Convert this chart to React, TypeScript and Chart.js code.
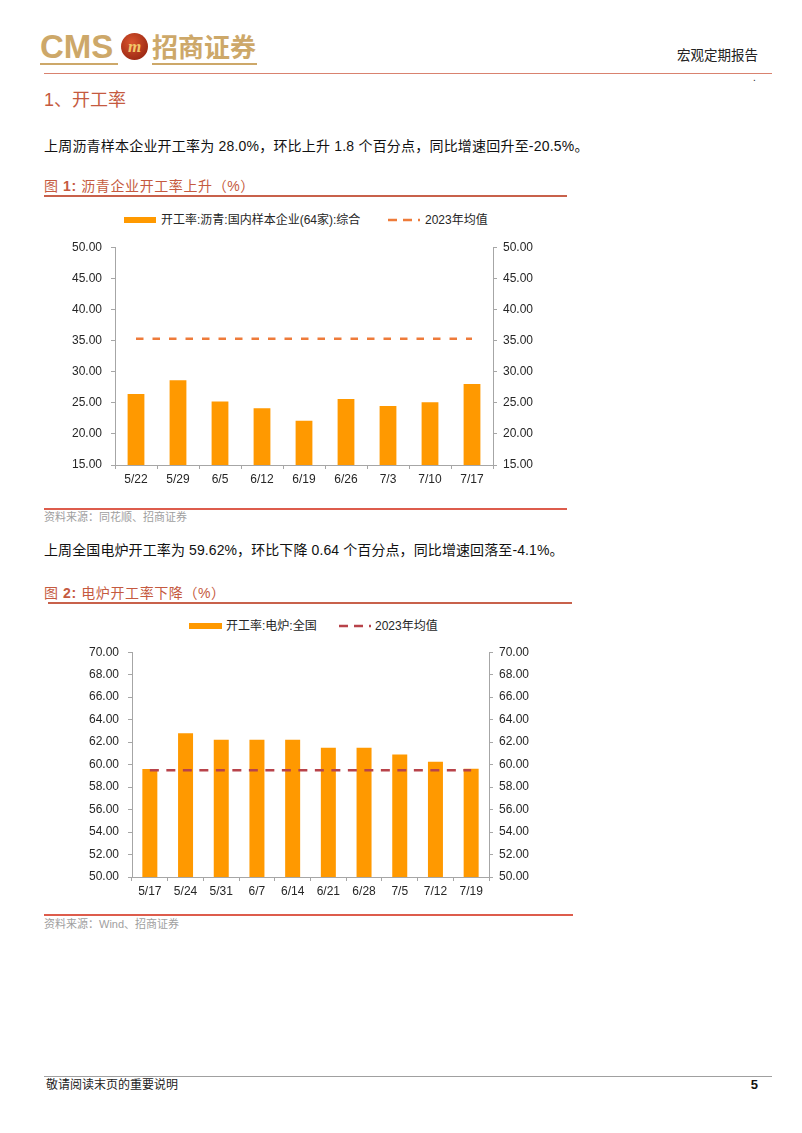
import React, { useEffect, useRef } from "react";
import { Chart, registerables } from "chart.js";

Chart.register(...registerables);

// ---- Chart 1 data ----
const labels1 = ["5/22", "5/29", "6/5", "6/12", "6/19", "6/26", "7/3", "7/10", "7/17"];
const asphaltRate = [26.4, 28.6, 25.2, 24.1, 22.1, 25.6, 24.5, 25.1, 28.0];
const asphaltAvg2023 = [35.3, 35.3, 35.3, 35.3, 35.3, 35.3, 35.3, 35.3, 35.3];
const series1Name = "开工率:沥青:国内样本企业(64家):综合";
const avgName = "2023年均值";

// ---- Chart 2 data ----
const labels2 = ["5/17", "5/24", "5/31", "6/7", "6/14", "6/21", "6/28", "7/5", "7/12", "7/19"];
const furnaceRate = [59.6, 62.8, 62.2, 62.2, 62.2, 61.5, 61.5, 60.9, 60.26, 59.62];
const furnaceAvg2023 = [59.5, 59.5, 59.5, 59.5, 59.5, 59.5, 59.5, 59.5, 59.5, 59.5];
const series2Name = "开工率:电炉:全国";

const BAR = "#FF9900";
const AXIS = "#A6A6A6";
const FONT = "'Liberation Sans', Arial, 'Noto Sans CJK SC', sans-serif";
const CJK = "'Liberation Sans', 'Noto Sans CJK SC', sans-serif";

type Cfg = {
  labels: string[];
  bars: number[];
  avg: number[];
  barName: string;
  min: number;
  max: number;
  step: number;
  dashColor: string;
  dash: number[];
  barPct: number;
  leftW: number;
  rightW: number;
  xH: number;
};

function BarChart({ cfg, width, height }: { cfg: Cfg; width: number; height: number }) {
  const ref = useRef<HTMLCanvasElement | null>(null);
  useEffect(() => {
    if (!ref.current) return;
    const yScale = (pos: "left" | "right", w: number, pad: number) => ({
      type: "linear" as const,
      position: pos,
      min: cfg.min,
      max: cfg.max,
      ticks: {
        stepSize: cfg.step,
        color: "#262626",
        padding: pad,
        font: { family: FONT, size: 12 },
        callback: (v: any) => Number(v).toFixed(2),
      },
      grid: { drawOnChartArea: false, drawTicks: true, tickLength: 4, color: AXIS },
      border: { display: true, color: AXIS, width: 1 },
      afterFit: (s: any) => {
        s.width = w;
      },
    });
    const chart = new Chart(ref.current, {
      data: {
        labels: cfg.labels,
        datasets: [
          {
            type: "line" as const,
            label: avgName,
            data: cfg.avg,
            borderColor: cfg.dashColor,
            borderWidth: 2.5,
            borderDash: cfg.dash,
            pointRadius: 0,
            fill: false,
            yAxisID: "y",
            order: 1,
          },
          {
            type: "bar" as const,
            label: cfg.barName,
            data: cfg.bars,
            backgroundColor: BAR,
            barPercentage: cfg.barPct,
            categoryPercentage: 1,
            yAxisID: "y",
            order: 2,
          },
        ],
      },
      options: {
        responsive: false,
        maintainAspectRatio: false,
        animation: false,
        layout: { padding: { top: 10, left: 0, right: 0, bottom: 0 } },
        plugins: { legend: { display: false }, tooltip: { enabled: false } },
        scales: {
          x: {
            type: "category",
            offset: true,
            grid: { display: true, drawOnChartArea: false, drawTicks: true, tickLength: 4, color: AXIS, offset: true },
            border: { display: true, color: AXIS, width: 1 },
            ticks: { color: "#262626", padding: 3, maxRotation: 0, autoSkip: false, font: { family: FONT, size: 12 } },
            afterFit: (s: any) => {
              s.height = cfg.xH;
            },
          },
          y: yScale("left", cfg.leftW, 9),
          y1: yScale("right", cfg.rightW, 6),
        },
      } as any,
    } as any);
    return () => chart.destroy();
  }, [cfg]);
  return <canvas ref={ref} width={width} height={height} style={{ width, height, display: "block" }} />;
}

const cfg1: Cfg = {
  labels: labels1,
  bars: asphaltRate,
  avg: asphaltAvg2023,
  barName: series1Name,
  min: 15,
  max: 50,
  step: 5,
  dashColor: "#EE7B3A",
  dash: [7.5, 9],
  barPct: 0.4,
  leftW: 75,
  rightW: 77,
  xH: 32,
};

const cfg2: Cfg = {
  labels: labels2,
  bars: furnaceRate,
  avg: furnaceAvg2023,
  barName: series2Name,
  min: 50,
  max: 70,
  step: 2,
  dashColor: "#B8434A",
  dash: [9, 7.5],
  barPct: 0.42,
  leftW: 92,
  rightW: 81,
  xH: 32,
};

function T({ x, y, size, color = "#111", children, right, weight, family = CJK, ls }: any) {
  const style: React.CSSProperties = {
    position: "absolute",
    top: y - size * 0.6,
    fontSize: size,
    lineHeight: `${size * 1.2}px`,
    color,
    fontFamily: family,
    whiteSpace: "nowrap",
    fontWeight: weight || "normal",
    letterSpacing: ls || 0,
  };
  if (right !== undefined) style.right = 802 - right;
  else style.left = x;
  return <div style={style}>{children}</div>;
}

function HLine({ x1, x2, y, color, h = 1 }: any) {
  return <div style={{ position: "absolute", left: x1, top: y - h / 2, width: x2 - x1, height: h, background: color }} />;
}

function DashSample({ x, y, color, dash }: any) {
  return (
    <svg style={{ position: "absolute", left: x, top: y - 3 }} width={32} height={6}>
      <line x1={0} y1={3} x2={32} y2={3} stroke={color} strokeWidth={2.5} strokeDasharray={dash} />
    </svg>
  );
}

export default function App() {
  const gold = "#CDA869";
  const red = "#C55A40";
  return (
    <div style={{ position: "absolute", left: 0, top: 0, width: 802, height: 1133, background: "#fff", overflow: "hidden" }}>
      {/* header logo */}
      <T x={40} y={47} size={33} color={gold} weight="bold" family="'Liberation Sans', Arial, sans-serif">
        CMS
      </T>
      <div
        style={{
          position: "absolute",
          left: 121,
          top: 33,
          width: 27,
          height: 27,
          borderRadius: "50%",
          background: "radial-gradient(circle at 40% 35%, #D9542E, #9E2A14 75%)",
          color: "#F2C76A",
          fontFamily: "'Liberation Serif', serif",
          fontWeight: "bold",
          fontStyle: "italic",
          fontSize: 17,
          lineHeight: "27px",
          textAlign: "center",
        }}
      >
        m
      </div>
      <T x={152} y={46} size={26} color={gold} weight="bold" family="'Noto Sans CJK SC', sans-serif">
        招商证券
      </T>
      <HLine x1={40} x2={118} y={64} color={gold} h={2} />
      <HLine x1={152} x2={257} y={64} color={gold} h={2} />
      <T right={758} y={56} size={13.5} color="#222">
        宏观定期报告
      </T>
      <HLine x1={44} x2={772} y={73} color="#D9826F" h={1} />
      <T x={753} y={78} size={10} color="#222">
        .
      </T>

      <T x={44} y={101} size={18} color={red}>
        1、开工率
      </T>
      <T x={44} y={146} size={14} color="#111" ls={0.2}>
        上周沥青样本企业开工率为 28.0%，环比上升 1.8 个百分点，同比增速回升至-20.5%。
      </T>

      {/* figure 1 */}
      <T x={44} y={186} size={14} color={red} ls={0.6}>
        图 <b style={{ fontFamily: "'Liberation Sans', Arial, sans-serif" }}>1:</b> 沥青企业开工率上升（%）
      </T>
      <HLine x1={44} x2={567} y={196} color="#C8614B" h={1.5} />
      <div style={{ position: "absolute", left: 124, top: 217, width: 32, height: 6, background: BAR }} />
      <T x={161} y={220} size={12} color="#262626">
        {series1Name}
      </T>
      <DashSample x={388} y={220} color="#EE7B3A" dash="9,6" />
      <T x={425} y={220} size={12} color="#262626">
        {avgName}
      </T>
      <div style={{ position: "absolute", left: 40, top: 231 }}>
        <BarChart cfg={cfg1} width={530} height={266} />
      </div>
      <HLine x1={44} x2={567} y={509} color="#DD5C4C" h={1.5} />
      <T x={44} y={518} size={11} color="#A0A0A0">
        资料来源：同花顺、招商证券
      </T>

      <T x={44} y={550} size={14} color="#111" ls={0.1}>
        上周全国电炉开工率为 59.62%，环比下降 0.64 个百分点，同比增速回落至-4.1%。
      </T>

      {/* figure 2 */}
      <T x={44} y={593} size={14} color={red} ls={0.6}>
        图 <b style={{ fontFamily: "'Liberation Sans', Arial, sans-serif" }}>2:</b> 电炉开工率下降（%）
      </T>
      <HLine x1={48} x2={572} y={603} color="#C8614B" h={1.5} />
      <div style={{ position: "absolute", left: 189, top: 623, width: 33, height: 6, background: BAR }} />
      <T x={226} y={626} size={12} color="#262626">
        {series2Name}
      </T>
      <DashSample x={339} y={626} color="#B8434A" dash="9,6" />
      <T x={375} y={626} size={12} color="#262626">
        {avgName}
      </T>
      <div style={{ position: "absolute", left: 40, top: 636 }}>
        <BarChart cfg={cfg2} width={530} height={273} />
      </div>
      <HLine x1={44} x2={573} y={915} color="#DD5C4C" h={1.5} />
      <T x={44} y={925} size={11} color="#A0A0A0">
        资料来源：Wind、招商证券
      </T>

      {/* footer */}
      <HLine x1={44} x2={772} y={1076} color="#A0A0A0" h={1} />
      <T x={46} y={1085} size={12} color="#222">
        敬请阅读末页的重要说明
      </T>
      <T right={758} y={1085} size={13} color="#111" weight="bold" family="'Liberation Sans', Arial, sans-serif">
        5
      </T>
    </div>
  );
}
